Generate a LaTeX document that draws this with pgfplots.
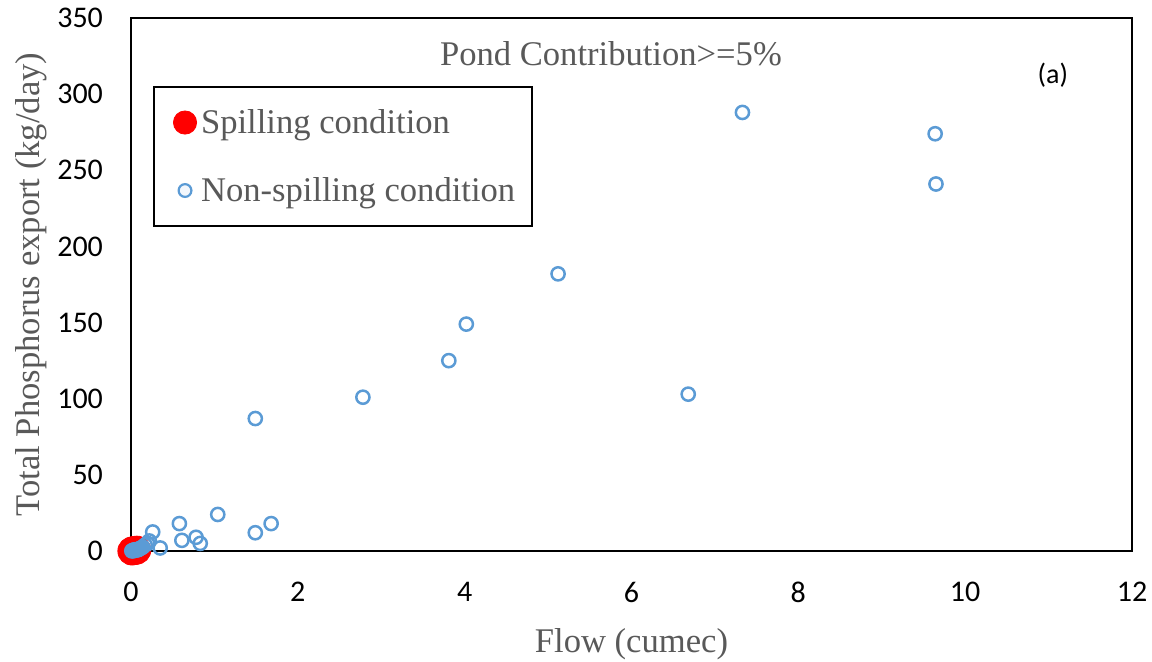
\documentclass[border=0pt]{standalone}
\usepackage{fontspec}
\setmainfont{Liberation Serif}
\newfontfamily\carlito{Carlito}
\usepackage{pgfplots}
\pgfplotsset{compat=1.18}
\definecolor{txtgray}{HTML}{595959}
\definecolor{xlblue}{HTML}{5B9BD5}
\definecolor{xlfill}{HTML}{F3F7FC}
\begin{document}
\begin{tikzpicture}
\useasboundingbox (-65.5pt,-55pt) rectangle (510.5pt,275.5pt);
\begin{axis}[
  at={(0,0)}, anchor=south west,
  scale only axis, width=500.5pt, height=266.5pt,
  xmin=0, xmax=12, ymin=0, ymax=350,
  xtick={0,2,...,12}, ytick={0,50,...,350},
  major tick length=0pt,
  axis line style={line width=1.2pt, black},
  clip=false,
  /pgf/number format/assume math mode=true,
  ticklabel style={font=\carlito\fontsize{15}{17}\selectfont, text=black},
  xticklabel style={yshift=-12pt},
  yticklabel style={xshift=-10.5pt},
  xlabel={Flow (cumec)},
  ylabel={Total Phosphorus export (kg/day)},
  label style={font=\fontsize{17.3}{20}\selectfont, text=txtgray},
  xlabel style={at={(axis description cs:0.5,0)}, anchor=base, yshift=-50.5pt},
  ylabel style={at={(axis description cs:0,0.5)}, anchor=base, yshift=45.5pt},
  legend style={at={(rel axis cs:0.022,0.8724)}, anchor=north west,
    draw=black, line width=1pt, inner xsep=0pt, inner ysep=0.75pt,
    font=\fontsize{17.3}{20}\selectfont, text=txtgray,
    nodes={inner sep=0pt}, row sep=0pt},
  legend cell align=left,
]
\addplot[only marks, mark=*, mark size=7pt, draw=red, fill=red,
  legend image code/.code={\path[draw=none, fill=none] (-15.5pt,-17pt) rectangle (8pt,17pt);
    \draw[mark size=5.8pt, mark=*, draw=red, fill=red, line width=0.4pt] plot coordinates {(0pt,0pt)};}]
  coordinates {(0.01,0) (0.03,0.2) (0.05,0.4) (0.07,0.6)};
\addlegendentry{\makebox[165.5pt][l]{Spilling condition}}
\addplot[only marks, mark=o, mark size=3.3pt, line width=1.25pt, draw=xlblue,
  mark options={fill=xlfill},
  legend image code/.code={\path[draw=none, fill=none] (-15.5pt,-17pt) rectangle (8pt,17pt);
    \draw[mark size=3.2pt, mark=*, draw=xlblue, fill=xlfill, line width=1.1pt] plot coordinates {(0pt,0pt)};}]
  coordinates {
  (7.33,288) (9.64,274) (9.65,241) (5.12,182) (4.02,149) (3.81,125)
  (2.78,101) (6.68,103) (1.49,87) (1.04,24) (1.68,18) (1.49,12)
  (0.58,18) (0.61,7) (0.78,9) (0.83,5) (0.26,12.5) (0.35,2)
  (0.22,6.6) (0.14,2.6) (0.07,0.7) (0.2,5) (0.17,4) (0.1,1.5)
  (0.05,0.5) (0.03,0.3) (0.01,0.1) (0.12,2) (0.09,1) (0.04,0.8) (0.02,0.2)
  };
\addlegendentry{\makebox[165.5pt][l]{Non-spilling condition}}
\node[anchor=base, font=\fontsize{17.3}{20}\selectfont, text=txtgray]
  at (axis description cs:0.4795,0.9118) {Pond Contribution>=5\%};
\node[anchor=center, font=\carlito\fontsize{14}{16}\selectfont, text=black]
  at (axis description cs:0.921,0.893) {(a)};
\end{axis}
\end{tikzpicture}
\end{document}
